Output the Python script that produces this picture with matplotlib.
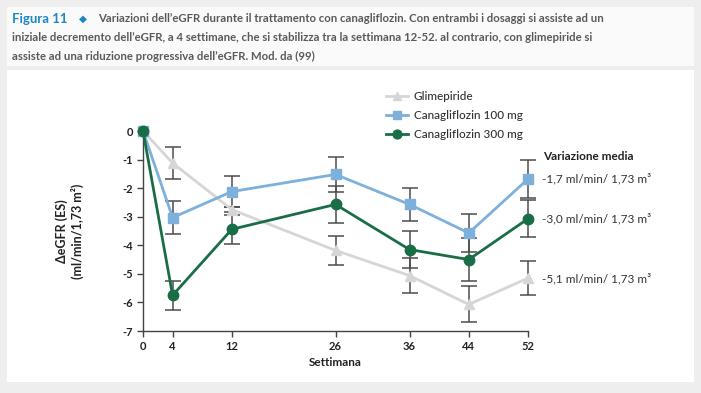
import matplotlib
matplotlib.use("Agg")
import matplotlib.pyplot as plt
from matplotlib.patches import Rectangle
import numpy as np

# ---------------- data ----------------
weeks = [0, 4, 12, 26, 36, 44, 52]
week_ticks = [0, 4, 12, 26, 36, 44, 52]
y_ticks = [0, -1, -2, -3, -4, -5, -6, -7]

glim = [0, -1.12, -2.75, -4.18, -5.06, -6.07, -5.15]
glim_err = [0, 0.57, 0.10, 0.52, 0.62, 0.63, 0.60]
c100 = [0, -3.03, -2.12, -1.52, -2.57, -3.57, -1.68]
c100_err = [0, 0.58, 0.55, 0.60, 0.59, 0.67, 0.68]
c300 = [0, -5.75, -3.44, -2.57, -4.15, -4.50, -3.07]
c300_err = [0, 0.51, 0.51, 0.65, 0.66, 0.75, 0.64]

series_names = ["Glimepiride", "Canagliflozin 100 mg", "Canagliflozin 300 mg"]
change_labels = ["-5,1 ml/min/ 1,73 m³", "-1,7 ml/min/ 1,73 m³", "-3,0 ml/min/ 1,73 m³"]

caption_head = "Figura 11"
caption_lines = [
    "Variazioni dell’eGFR durante il trattamento con canagliflozin. Con entrambi i dosaggi si assiste ad un",
    "iniziale decremento dell’eGFR, a 4 settimane, che si stabilizza tra la settimana 12-52. al contrario, con glimepiride si",
    "assiste ad una riduzione progressiva dell’eGFR. Mod. da (99)",
]

# ---------------- style ----------------
W, H = 701, 393
CAP_FONT = ["Lato", "DejaVu Sans"]
FONT = ["Lato", "DejaVu Sans"]
plt.rcParams["font.family"] = FONT

col_glim = "#d6d6d6"
col_c100 = "#7db0da"
col_c300 = "#1a6e47"
col_err = "#4d4d4d"
col_txt = "#333333"

fig = plt.figure(figsize=(W / 100, H / 100), dpi=100)
fig.patch.set_facecolor("#eeeeee")

def fx(px):
    return px / W

def fy(py):
    return 1 - py / H

# panels (behind everything)
fig.patches.append(Rectangle((fx(7), fy(66)), fx(687), 59 / H, transform=fig.transFigure,
                             facecolor="#fafafa", edgecolor="none", zorder=-10))
fig.patches.append(Rectangle((fx(7), fy(382)), fx(687), 312 / H, transform=fig.transFigure,
                             facecolor="white", edgecolor="none", zorder=-10))

# caption
renderer = fig.canvas.get_renderer()
blue = "#1f87c6"
gray = "#5a5a5a"
fs = 9.5
t_head = fig.text(fx(12), fy(19), caption_head, color=blue, fontsize=fs, fontweight="bold",
                  family=CAP_FONT, va="center", ha="left")
bb = t_head.get_window_extent(renderer)
t_dia = fig.text(fx(bb.x1 + 11), fy(19), "◆", color=blue, fontsize=fs - 2,
                 family=["DejaVu Sans"], va="center", ha="left")
bb2 = t_dia.get_window_extent(renderer)
x_start1 = bb2.x1 + 12
t1 = fig.text(fx(x_start1), fy(19), caption_lines[0], color=gray, fontsize=fs, fontweight="bold",
              family=CAP_FONT, va="center", ha="left")
w1 = t1.get_window_extent(renderer).width
target = 604 - x_start1
fs2 = fs * target / w1
t1.set_fontsize(fs2)
t2 = fig.text(fx(12), fy(37.5), caption_lines[1], color=gray, fontsize=fs2, fontweight="bold",
              family=CAP_FONT, va="center", ha="left")
t3 = fig.text(fx(12), fy(56), caption_lines[2], color=gray, fontsize=fs2, fontweight="bold",
              family=CAP_FONT, va="center", ha="left")

# axes: x 0..52 -> px 143..528 ; y 0..-7 -> px 131..331
ax = fig.add_axes([fx(143), fy(331), (528 - 143) / W, 200 / H])
ax.set_facecolor("none")
ax.set_xlim(0, 52)
ax.set_ylim(-7, 0)

for sp in ["top", "right"]:
    ax.spines[sp].set_visible(False)
for sp in ["left", "bottom"]:
    ax.spines[sp].set_color("#444444")
    ax.spines[sp].set_linewidth(1.0)

ax.set_xticks(week_ticks)
ax.set_xticklabels([str(w) for w in week_ticks])
ax.set_yticks(y_ticks)
ax.set_yticklabels([str(v) for v in y_ticks])
ax.tick_params(axis="both", direction="out", length=4, width=1, color="#444444",
               labelsize=8, labelcolor="#222222", pad=3)
for lab in ax.get_xticklabels() + ax.get_yticklabels():
    lab.set_fontweight("bold")
ax.tick_params(axis="x", pad=3)

# error bars (not at week 0)
for vals, errs in [(glim, glim_err), (c100, c100_err), (c300, c300_err)]:
    ax.errorbar(weeks[1:], vals[1:], yerr=errs[1:], fmt="none", ecolor=col_err,
                elinewidth=1.1, capsize=6, capthick=1.1, zorder=2, clip_on=False)

ax.plot(weeks, glim, color=col_glim, lw=2, marker="^", ms=6.5, mec=col_glim, mfc=col_glim,
        zorder=3, clip_on=False, label=series_names[0])
ax.plot(weeks, c100, color=col_c100, lw=2, marker="s", ms=6.5, mec=col_c100, mfc=col_c100,
        zorder=4, clip_on=False, label=series_names[1])
ax.plot(weeks, c300, color=col_c300, lw=2, marker="o", ms=7.5, mec=col_c300, mfc=col_c300,
        zorder=5, clip_on=False, label=series_names[2])

leg = ax.legend(loc="upper left", bbox_to_anchor=(fx(386), fy(91)), bbox_transform=fig.transFigure,
                frameon=False, fontsize=8.5, handlelength=1.9, handletextpad=0.45,
                labelspacing=0.68, borderpad=0, borderaxespad=0, markerscale=0.85)
for t in leg.get_texts():
    t.set_color(col_txt)
    t.set_fontweight("medium")

ax.set_xlabel("Settimana", fontsize=8.5, fontweight="bold", color="#222222", labelpad=4)
ax.set_ylabel("ΔeGFR (ES)\n(ml/min/1,73 m²)", fontsize=9, fontweight="bold", color="#222222",
              labelpad=28, linespacing=1.2)

# right annotations
ax.annotate("Variazione media", xy=(52, 0), xycoords="data", xytext=(15, -25),
            textcoords="offset pixels", fontsize=8.5, fontweight="bold", color="#222222",
            va="center", ha="left", annotation_clip=False)
for vals, lab in [(glim, change_labels[0]), (c100, change_labels[1]), (c300, change_labels[2])]:
    ax.annotate(lab, xy=(52, vals[-1]), xycoords="data", xytext=(14, 0),
                textcoords="offset pixels", fontsize=8.5, color=col_txt,
                va="center", ha="left", annotation_clip=False)

fig.savefig("out.png", dpi=100, facecolor=fig.get_facecolor())
